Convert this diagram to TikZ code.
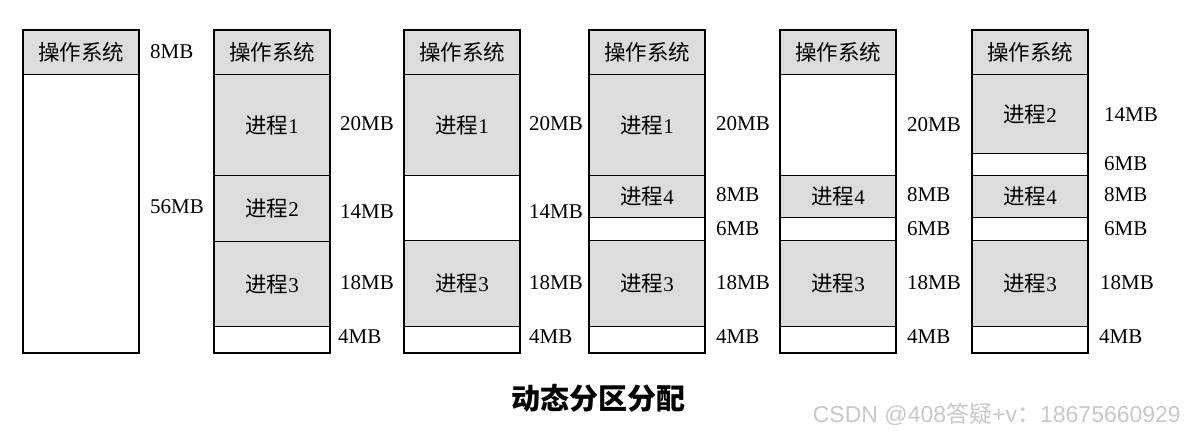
\documentclass[tikz,border=0pt]{standalone}
\usepackage{fontspec}
\setmainfont{Liberation Serif}
\newfontfamily\cjk{Noto Sans CJK SC}
\newfontfamily\wmfont{Liberation Sans}
\definecolor{segfill}{RGB}{220,220,220}
\definecolor{wmgray}{RGB}{200,200,200}
\newcommand{\cj}[1]{{\cjk\fontsize{21.5}{21.5}\selectfont #1}}
\tikzset{
  seg/.style={draw, line width=1.2pt, inner sep=0pt, anchor=north west,
    minimum width=115pt, font=\fontsize{21}{21}\selectfont},
  proc/.style={seg, fill=segfill},
  hole/.style={seg, fill=white},
  frame/.style={draw, line width=2pt},
  size/.style={anchor=west, inner sep=0pt, font=\fontsize{21}{21}\selectfont},
}
\begin{document}
\begin{tikzpicture}[x=1pt,y=-1pt]
\useasboundingbox (0,0) rectangle (1185,436);
% column 1
\node[proc, minimum height=44pt] (a0) at (23,30) {\cj{操作系统}};
\node[hole, minimum height=278pt] (a1) at (23,74) {};
\draw[frame] (a0.north west) rectangle (a1.south east);
\node[size] (la0) at (150,52) {8MB};
\node[size] (la1) at (150,207) {56MB};
% column 2
\node[proc, minimum height=44pt] (b0) at (214,30) {\cj{操作系统}};
\node[proc, minimum height=101pt] (b1) at (214,74) {\cj{进程}1};
\node[proc, minimum height=66pt] (b2) at (214,175) {\cj{进程}2};
\node[proc, minimum height=85pt] (b3) at (214,241) {\cj{进程}3};
\node[hole, minimum height=26pt] (b4) at (214,326) {};
\draw[frame] (b0.north west) rectangle (b4.south east);
\node[size] (lb1) at (340,124) {20MB};
\node[size] (lb2) at (340,212) {14MB};
\node[size] (lb3) at (340,283) {18MB};
\node[size] (lb4) at (338,337) {4MB};
% column 3
\node[proc, minimum height=44pt] (c0) at (404,30) {\cj{操作系统}};
\node[proc, minimum height=101pt] (c1) at (404,74) {\cj{进程}1};
\node[hole, minimum height=65pt] (c2) at (404,175) {};
\node[proc, minimum height=86pt] (c3) at (404,240) {\cj{进程}3};
\node[hole, minimum height=26pt] (c4) at (404,326) {};
\draw[frame] (c0.north west) rectangle (c4.south east);
\node[size] (lc1) at (529,124) {20MB};
\node[size] (lc2) at (529,212) {14MB};
\node[size] (lc3) at (529,283) {18MB};
\node[size] (lc4) at (529,337) {4MB};
% column 4
\node[proc, minimum height=44pt] (d0) at (589,30) {\cj{操作系统}};
\node[proc, minimum height=101pt] (d1) at (589,74) {\cj{进程}1};
\node[proc, minimum height=42pt] (d2) at (589,175) {\cj{进程}4};
\node[hole, minimum height=23pt] (d3) at (589,217) {};
\node[proc, minimum height=86pt] (d4) at (589,240) {\cj{进程}3};
\node[hole, minimum height=26pt] (d5) at (589,326) {};
\draw[frame] (d0.north west) rectangle (d5.south east);
\node[size] (ld1) at (716,124) {20MB};
\node[size] (ld2) at (716,195) {8MB};
\node[size] (ld3) at (716,229) {6MB};
\node[size] (ld4) at (716,283) {18MB};
\node[size] (ld5) at (716,337) {4MB};
% column 5
\node[proc, minimum height=44pt] (e0) at (780,30) {\cj{操作系统}};
\node[hole, minimum height=101pt] (e1) at (780,74) {};
\node[proc, minimum height=42pt] (e2) at (780,175) {\cj{进程}4};
\node[hole, minimum height=23pt] (e3) at (780,217) {};
\node[proc, minimum height=86pt] (e4) at (780,240) {\cj{进程}3};
\node[hole, minimum height=26pt] (e5) at (780,326) {};
\draw[frame] (e0.north west) rectangle (e5.south east);
\node[size] (le1) at (907,125) {20MB};
\node[size] (le2) at (907,195) {8MB};
\node[size] (le3) at (907,229) {6MB};
\node[size] (le4) at (907,283) {18MB};
\node[size] (le5) at (907,337) {4MB};
% column 6
\node[proc, minimum height=44pt] (f0) at (972,30) {\cj{操作系统}};
\node[proc, minimum height=79pt] (f1) at (972,74) {\cj{进程}2};
\node[hole, minimum height=22pt] (f2) at (972,153) {};
\node[proc, minimum height=42pt] (f3) at (972,175) {\cj{进程}4};
\node[hole, minimum height=23pt] (f4) at (972,217) {};
\node[proc, minimum height=86pt] (f5) at (972,240) {\cj{进程}3};
\node[hole, minimum height=26pt] (f6) at (972,326) {};
\draw[frame] (f0.north west) rectangle (f6.south east);
\node[size] (lf1) at (1104,115) {14MB};
\node[size] (lf2) at (1104,164) {6MB};
\node[size] (lf3) at (1104,195) {8MB};
\node[size] (lf4) at (1104,229) {6MB};
\node[size] (lf5) at (1100,283) {18MB};
\node[size] (lf6) at (1099,337) {4MB};
% title and watermark
\node[font=\cjk\bfseries\fontsize{29}{29}\selectfont, inner sep=0pt] (title) at (598,398) {动态分区分配};
\node[anchor=east, inner sep=0pt, text=wmgray, font=\wmfont\fontsize{23}{23}\selectfont] (wm) at (1181,414) {CSDN @408{\cjk 答疑}+v{\cjk ：}18675660929};
\end{tikzpicture}
\end{document}
